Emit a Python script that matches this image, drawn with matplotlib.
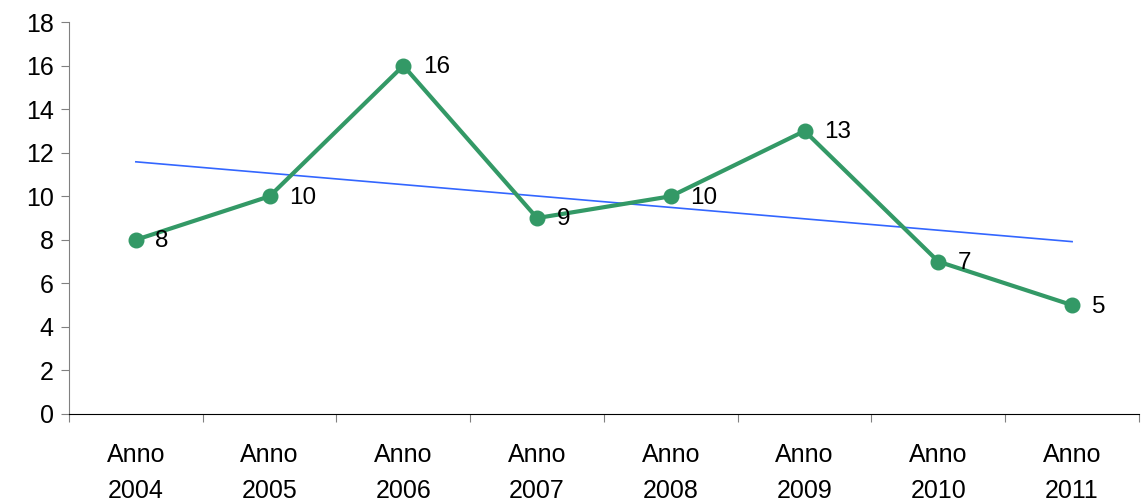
import matplotlib

matplotlib.use("Agg")
import matplotlib.pyplot as plt
import numpy as np

plt.rcParams["font.family"] = ["Liberation Sans", "DejaVu Sans"]

# dati
anni = ["2004", "2005", "2006", "2007", "2008", "2009", "2010", "2011"]
valori = [8, 10, 16, 9, 10, 13, 7, 5]

x = np.arange(1, len(anni) + 1)

fig = plt.figure(figsize=(11.44, 5.03), dpi=100)
ax = fig.add_axes([0.0603, 0.177, 0.9353, 0.779])

# linea di tendenza lineare
coef = np.polyfit(x, valori, 1)
ax.plot(x, np.polyval(coef, x), color="#3366FF", lw=1.2, zorder=2)

ax.plot(x, valori, color="#339966", lw=3, marker="o", markersize=10.5, zorder=3)

for xi, v in zip(x, valori):
    ax.annotate(str(v), (xi, v), xytext=(14, -1), textcoords="offset points",
                va="center", ha="left", fontsize=17.5)

ax.set_xlim(0.5, len(anni) + 0.5)
ax.set_ylim(0, 18)
ax.set_yticks(range(0, 19, 2))
ax.tick_params(axis="y", labelsize=18, length=6, color="#808080", pad=5)

# tacche tra le categorie, etichette al centro
ax.set_xticks(np.arange(0.5, len(anni) + 1, 1))
ax.set_xticklabels([])
ax.tick_params(axis="x", which="major", length=6, color="#808080")
ax.set_xticks(x, minor=True)
ax.set_xticklabels(["Anno\n" + a for a in anni], minor=True, fontsize=18, linespacing=1.65)
ax.tick_params(axis="x", which="minor", length=0, pad=21)

for s in ["top", "right"]:
    ax.spines[s].set_visible(False)
ax.spines["left"].set_color("#808080")
ax.spines["bottom"].set_color("black")

fig.savefig("out.png", dpi=100)
